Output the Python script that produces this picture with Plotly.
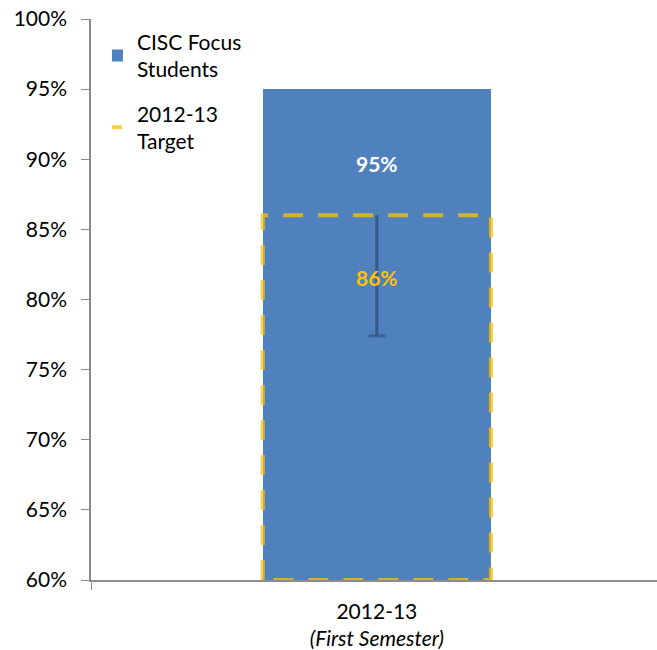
import plotly.graph_objects as go

categories = ["2012-13<br><i>(First Semester)</i>"]
focus_values = [95]
target_values = [86]
target_low = [77.4]
y_ticks = [60, 65, 70, 75, 80, 85, 90, 95, 100]

FONT = "Lato"
BLUE = "#4F81BD"
GOLD = "rgba(255,192,0,0.75)"
BAR_W = 0.399
FS = 21

xpos = list(range(len(categories)))

fig = go.Figure()

fig.add_trace(go.Bar(
    x=xpos, y=focus_values, width=BAR_W,
    marker=dict(color=BLUE, line=dict(width=0)),
    name="CISC Focus<br>Students", legendgroup="focus",
))

# Target outline (dashed), built from the target values
for i, (xv, tv) in enumerate(zip(xpos, target_values)):
    xs = [xv - BAR_W / 2, xv - BAR_W / 2, xv + BAR_W / 2, xv + BAR_W / 2, xv - BAR_W / 2]
    ys = [y_ticks[0], tv, tv, y_ticks[0], y_ticks[0]]
    fig.add_trace(go.Scatter(
        x=xs, y=ys, mode="lines",
        line=dict(color=GOLD, width=4, dash="20px,15px"),
        name="2012-13<br>Target", showlegend=(i == 0), legendgroup="target",
        hoverinfo="skip", cliponaxis=False,
    ))

# Error bar on the target (downward only, cap at the bottom)
for xv, tv, lv in zip(xpos, target_values, target_low):
    fig.add_trace(go.Scatter(
        x=[xv, xv], y=[tv, lv], mode="lines+markers",
        line=dict(color="#35598A", width=3),
        marker=dict(symbol="line-ew", size=[0, 12],
                    line=dict(color="#35598A", width=3)),
        showlegend=False, hoverinfo="skip",
    ))

annotations = []
for xv, v in zip(xpos, focus_values):
    annotations.append(dict(x=xv, y=v, xref="x", yref="y", text=f"<b>{v}%</b>",
                            showarrow=False, yshift=-74,
                            font=dict(family=FONT, size=FS, color="white")))
for xv, v in zip(xpos, target_values):
    annotations.append(dict(x=xv, y=v, xref="x", yref="y", text=f"<b>{v}%</b>",
                            showarrow=False, yshift=-62,
                            font=dict(family=FONT, size=FS, color="#FFC000")))

fig.update_layout(
    width=657, height=650,
    margin=dict(l=91, r=0, t=19, b=70),
    plot_bgcolor="white", paper_bgcolor="white",
    font=dict(family=FONT, size=FS, color="black"),
    showlegend=True,
    legend=dict(x=0.037, y=0.995, xanchor="left", yanchor="top",
                bgcolor="rgba(0,0,0,0)", font=dict(family=FONT, size=FS),
                tracegroupgap=14, itemwidth=30, indentation=-15),
    annotations=annotations,
    bargap=0,
)

fig.update_xaxes(
    range=[-0.5, len(categories) - 0.51],
    tickvals=xpos, ticktext=categories,
    showgrid=False, zeroline=False, automargin=False,
    showline=True, linecolor="#8C8C8C", linewidth=1.5,
    ticks="", ticklen=0, ticklabelstandoff=12,
    minor=dict(tick0=-0.5, dtick=1, ticks="outside", ticklen=8,
               tickcolor="#8C8C8C", showgrid=False),
    tickfont=dict(family=FONT, size=FS),
)

fig.update_yaxes(
    range=[y_ticks[0], y_ticks[-1]],
    tickvals=y_ticks, ticktext=[f"{t}%" for t in y_ticks],
    showgrid=False, zeroline=False, automargin=False,
    showline=True, linecolor="#8C8C8C", linewidth=1.5,
    ticks="outside", ticklen=8, tickcolor="#8C8C8C", ticklabelstandoff=10,
    ticklabeloverflow="allow",
    tickfont=dict(family=FONT, size=FS),
)

fig.write_html(
    "out.html",
    config={"displayModeBar": False},
    post_script="document.body.style.margin='0';document.body.style.overflow='hidden';",
)
